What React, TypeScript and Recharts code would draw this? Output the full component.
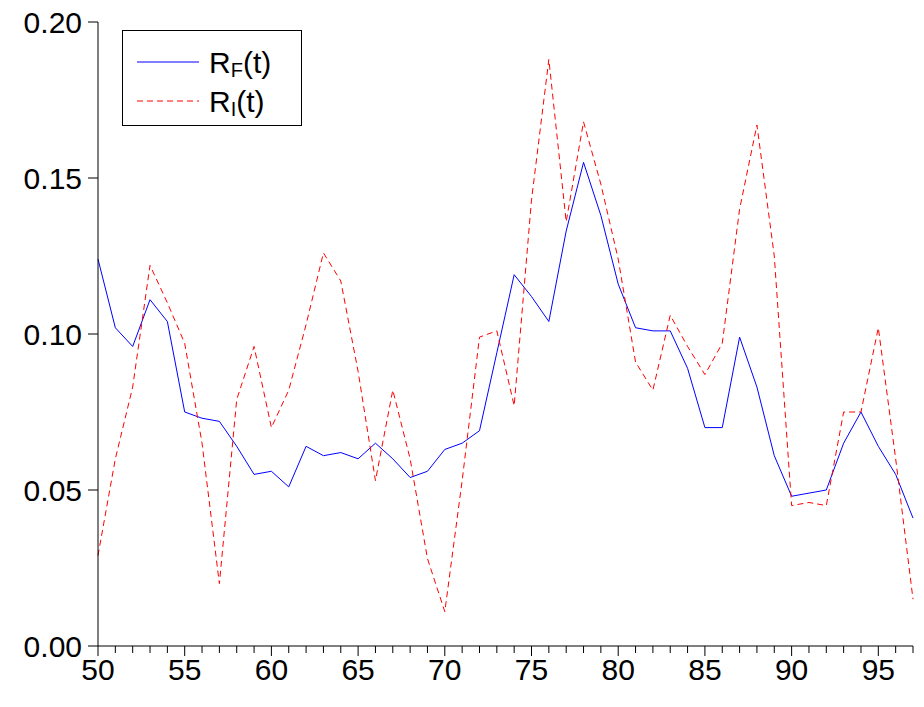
import React from 'react';
import { LineChart, Line, XAxis, YAxis } from 'recharts';

const years = Array.from({ length: 48 }, (_, i) => 50 + i);
const rF = [0.124, 0.102, 0.096, 0.111, 0.104, 0.075, 0.073, 0.072, 0.064, 0.055, 0.056, 0.051, 0.064, 0.061, 0.062, 0.060, 0.065, 0.060, 0.054, 0.056, 0.063, 0.065, 0.069, 0.094, 0.119, 0.112, 0.104, 0.133, 0.155, 0.138, 0.116, 0.102, 0.101, 0.101, 0.089, 0.070, 0.070, 0.099, 0.083, 0.061, 0.048, 0.049, 0.050, 0.065, 0.075, 0.064, 0.055, 0.041];
const rI = [0.029, 0.060, 0.083, 0.122, 0.110, 0.097, 0.065, 0.020, 0.079, 0.096, 0.070, 0.082, 0.103, 0.126, 0.117, 0.088, 0.053, 0.082, 0.060, 0.028, 0.011, 0.053, 0.099, 0.101, 0.077, 0.143, 0.188, 0.136, 0.168, 0.148, 0.124, 0.091, 0.082, 0.106, 0.096, 0.087, 0.097, 0.140, 0.167, 0.125, 0.045, 0.046, 0.045, 0.075, 0.075, 0.102, 0.060, 0.015];
const yTicks = [0, 0.05, 0.1, 0.15, 0.2];

const data = years.map((t, i) => ({ t, f: rF[i], i: rI[i] }));
const font = '"Liberation Sans", Arial, sans-serif';

const XTick = (props: any) => {
    const { x, y, payload } = props;
    const major = payload.value % 5 === 0;
    return (
        <g>
            <line x1={x} x2={x} y1={y - 8} y2={y - 8 + (major ? 10 : 7)} stroke="#000" />
            {major && (
                <text x={x} y={y + 26} textAnchor="middle" fontSize={30} fontFamily={font} fill="#000">
                    {payload.value}
                </text>
            )}
        </g>
    );
};

export default function App() {
    return (
        <div style={{ position: 'absolute', left: 0, top: 0, width: 924, height: 707, background: '#fff' }}>
            <LineChart width={924} height={707} data={data} margin={{ top: 22, right: 11, left: 0, bottom: 16 }}>
                <XAxis
                    dataKey="t"
                    type="number"
                    domain={[50, 97]}
                    ticks={years}
                    interval={0}
                    height={45}
                    tickLine={false}
                    axisLine={{ stroke: '#000' }}
                    tick={<XTick />}
                />
                <YAxis
                    type="number"
                    domain={[0, 0.2]}
                    ticks={yTicks}
                    width={98}
                    tickFormatter={(v: number) => v.toFixed(2)}
                    tick={{ fontSize: 30, fontFamily: font, fill: '#000' }}
                    axisLine={{ stroke: '#000' }}
                    tickLine={{ stroke: '#000' }}
                    tickSize={10}
                    tickMargin={6}
                />
                <Line dataKey="f" stroke="#0000ff" strokeWidth={1} dot={false} isAnimationActive={false} />
                <Line dataKey="i" stroke="#ff0000" strokeWidth={1} strokeDasharray="6 4" dot={false} isAnimationActive={false} />
            </LineChart>
            <div style={{ position: 'absolute', left: 122, top: 30, width: 178, height: 94, border: '1px solid #000', background: '#fff' }}>
                <svg width={178} height={94} style={{ position: 'absolute', left: 0, top: 0 }}>
                    <line x1={14} x2={76} y1={31} y2={31} stroke="#0000ff" />
                    <line x1={14} x2={76} y1={70} y2={70} stroke="#ff0000" strokeDasharray="6 4" />
                    <text x={86} y={42} fontSize={30} fontFamily={font}>R<tspan fontSize={20} dy={4}>F</tspan><tspan dy={-4}>(t)</tspan></text>
                    <text x={86} y={81} fontSize={30} fontFamily={font}>R<tspan fontSize={20} dy={4}>I</tspan><tspan dy={-4}>(t)</tspan></text>
                </svg>
            </div>
        </div>
    );
}
